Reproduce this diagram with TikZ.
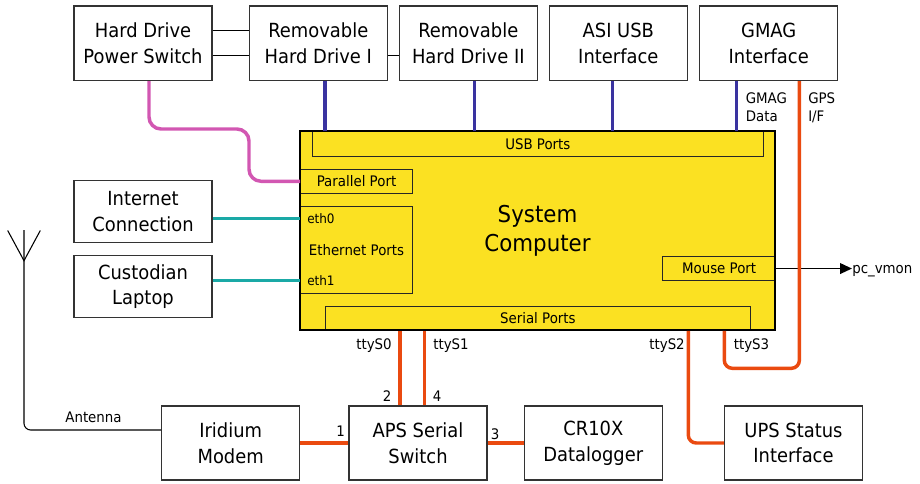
\documentclass[tikz,border=0pt]{standalone}
\usepackage{fontspec}
\setmainfont{DejaVu Sans}[FakeStretch=0.92]
\usetikzlibrary{arrows.meta}

\definecolor{pcyellow}{HTML}{FBE122}
\definecolor{usbblue}{HTML}{3A33A0}
\definecolor{parpink}{HTML}{D257B2}
\definecolor{ethteal}{HTML}{1AA9A6}
\definecolor{serorange}{HTML}{EA4A10}

\begin{document}
\begin{tikzpicture}[x=0.75pt,y=-0.75pt,
  unit/.style={draw=black!80, line width=0.9pt, fill=white, align=center,
    inner sep=0pt, font=\fontsize{14.6}{19.2}\selectfont},
  wideunit/.style={unit, minimum width=103.5pt, minimum height=56pt},
  sideunit/.style={unit, minimum width=103.5pt, minimum height=46.5pt},
  port/.style={draw=black!85, line width=0.75pt, fill=pcyellow, anchor=north west,
    inner sep=0pt, font=\fontsize{10.9}{13.5}\selectfont},
  small/.style={inner sep=0pt, font=\fontsize{10.9}{13.5}\selectfont},
  tiny/.style={inner sep=0pt, font=\fontsize{9.8}{12}\selectfont},
  usbline/.style={draw=usbblue, line width=2.3pt},
  serline/.style={draw=serorange, line width=2.6pt, rounded corners=6pt},
  ethline/.style={draw=ethteal, line width=2.6pt},
  parline/.style={draw=parpink, line width=2.6pt, rounded corners=9pt},
  wire/.style={draw=black, line width=0.8pt}]
\useasboundingbox (0,0) rectangle (920,483);

% top row of peripherals
\node[wideunit] (hdps) at (143,43.3) {Hard Drive\\Power Switch};
\node[wideunit] (rhd1) at (318.3,43.3) {Removable\\Hard Drive I};
\node[wideunit] (rhd2) at (468.3,43.3) {Removable\\Hard Drive II};
\node[wideunit] (asi)  at (618.3,43.3) {ASI USB\\Interface};
\node[wideunit] (gmag) at (768.7,43.3) {GMAG\\Interface};

% left column
\node[sideunit] (inet) at (143,211.7) {Internet\\Connection};
\node[sideunit] (cust) at (143,286.8) {Custodian\\Laptop};

% bottom row
\node[wideunit, minimum height=55.5pt] (irid) at (230.7,443) {Iridium\\Modem};
\node[wideunit, minimum height=55.5pt] (aps)  at (418,443) {APS Serial\\Switch};
\node[wideunit, minimum height=55.5pt] (cr)   at (593.3,443) {CR10X\\Datalogger};
\node[wideunit, minimum height=55.5pt] (ups)  at (793.5,443) {UPS Status\\Interface};

% system computer and its ports
\node[fill=pcyellow, minimum width=356.25pt, minimum height=149.25pt, inner sep=0pt,
  align=center, font=\fontsize{17.4}{22}\selectfont] (pc) at (537.5,230.5) {System\\Computer};
\node[port, minimum width=338pt, minimum height=18.5pt] (usb) at (312,131) {USB Ports};
\node[port, minimum width=84pt, minimum height=18.4pt] (par) at (300,168.5) {Parallel Port};
\node[port, minimum width=84pt, minimum height=65.5pt] (eth) at (300,205.7) {Ethernet Ports};
\node[port, minimum width=319pt, minimum height=18.2pt] (ser) at (324.7,305.7) {Serial Ports};
\node[port, minimum width=84.5pt, minimum height=18.5pt] (mouse) at (662.3,255.7) {Mouse Port};
\draw[line width=1.5pt] (pc.north west) rectangle (pc.south east);
\node[tiny, anchor=west] (eth0) at (307,218.3) {eth0};
\node[tiny, anchor=west] (eth1) at (307,280.7) {eth1};

% hard drive power cabling
\draw[wire] ([yshift=9.4pt]hdps.east) -- ([yshift=9.4pt]hdps.east -| rhd1.west);
\draw[wire] ([yshift=-9.4pt]hdps.east) -- ([yshift=-9.4pt]hdps.east -| rhd1.west);
\draw[wire] ([yshift=-9.4pt]rhd1.east) -- ([yshift=-9.4pt]rhd1.east -| rhd2.west);

% USB connections
\draw[usbline] ([xshift=5pt]rhd1.south) -- ([xshift=5pt]rhd1.south |- usb.north);
\draw[usbline] ([xshift=4.5pt]rhd2.south) -- ([xshift=4.5pt]rhd2.south |- usb.north);
\draw[usbline] ([xshift=-4.2pt]asi.south) -- ([xshift=-4.2pt]asi.south |- usb.north);
\draw[usbline] ([xshift=28.2pt]gmag.south west) -- ([xshift=28.2pt]gmag.south west |- usb.north);
\node[small, anchor=west, align=left] (gmagdata) at (745.5,107.5) {GMAG\\Data};
\node[small, anchor=west, align=left] (gpsif) at (808,107.5) {GPS\\I/F};

% parallel port to power switch
\coordinate (pbend) at (249,129);
\draw[parline] ([xshift=4.5pt]hdps.south) |- (pbend) |- (par.west);

% ethernet
\draw[ethline] ([yshift=-5pt]inet.east) -- ([yshift=-5pt]inet.east -| eth.west);
\draw[ethline] ([yshift=4.6pt]cust.east) -- ([yshift=4.6pt]cust.east -| eth.west);

% mouse port output
\node[small, anchor=base west] (pcv) at (852,273.5) {pc\_vmon};
\draw[wire, line width=1.3pt, -{Triangle[length=9pt,width=8pt]}] (mouse.east) -- (mouse.east -| pcv.west);

% serial connections
\draw[serline] ([xshift=-13.5pt]aps.north) -- ([xshift=-13.5pt]aps.north |- ser.south);
\draw[serline] ([xshift=5pt]aps.north) -- ([xshift=5pt]aps.north |- ser.south);
\draw[serline] (ups.west) -| ([xshift=112.8pt]ser.south);
\coordinate (gpsloop) at (724.3,368.3);
\draw[serline] ([xshift=75.2pt]gmag.south west) |- (gpsloop) -- (gpsloop |- ser.south);
\draw[serline] (irid.east) -- (aps.west);
\draw[serline] (aps.east) -- (cr.west);

\node[small, anchor=base east] (s0) at (392,349.5) {ttyS0};
\node[small, anchor=base west] (s1) at (433,349.5) {ttyS1};
\node[small, anchor=base east] (s2) at (685,349.5) {ttyS2};
\node[small, anchor=base west] (s3) at (733.5,349.5) {ttyS3};
\node[small, anchor=base] (p2) at (387,401) {2};
\node[small, anchor=base] (p4) at (437,401) {4};
\node[small, anchor=base] (p1) at (340.5,436) {1};
\node[small, anchor=base] (p3) at (495,439) {3};

% antenna
\coordinate (antfoot) at (24,260.7);
\coordinate (anttop) at (24,230);
\coordinate (antleft) at (7.7,230.5);
\coordinate (antright) at (40.3,230.5);
\draw[wire] (antleft) -- (antfoot) -- (antright);
\draw[wire, rounded corners=5pt] (anttop) |- ([yshift=9.75pt]irid.west);
\node[small, anchor=base] (antlabel) at (93.5,422.3) {Antenna};
\end{tikzpicture}
\end{document}
